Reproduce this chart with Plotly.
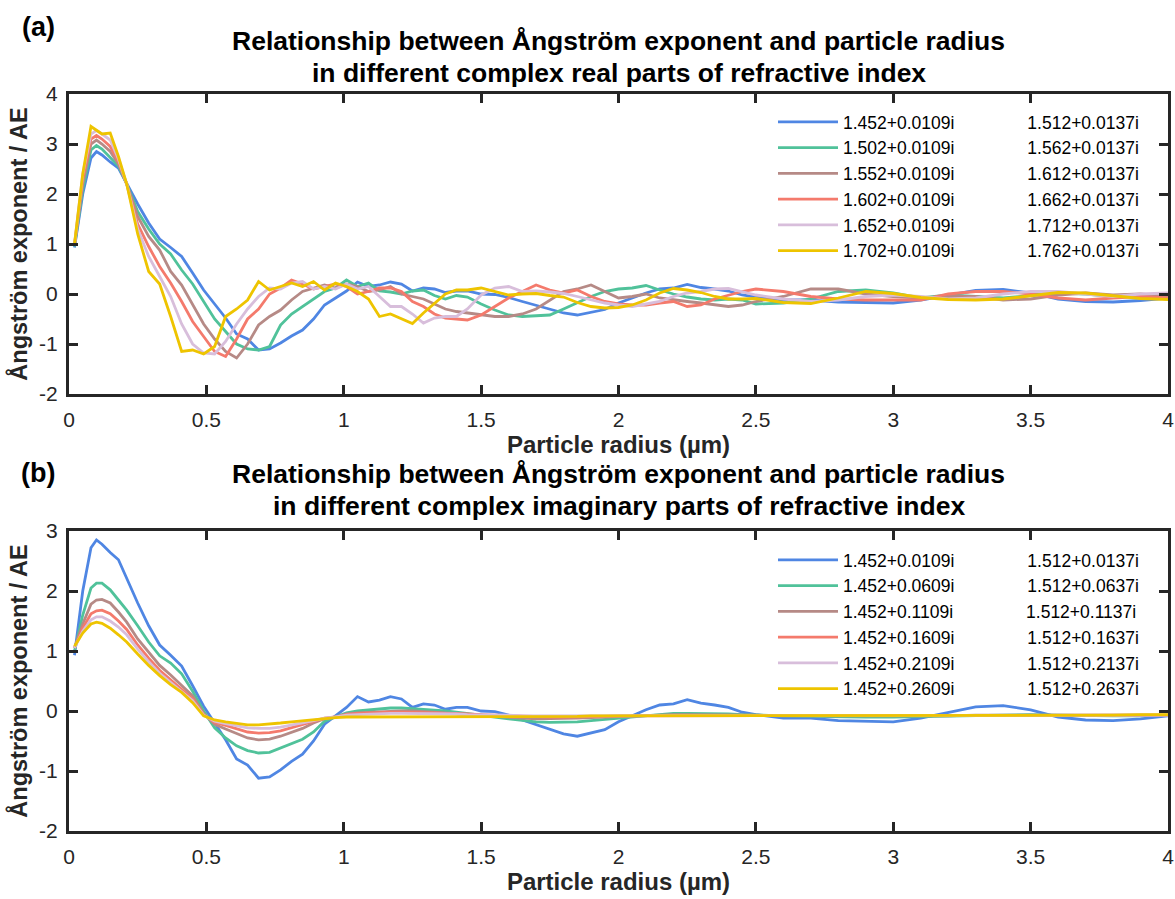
import plotly.graph_objects as go

# ---------------- data ----------------
radius_um = [0.02, 0.05, 0.08, 0.10, 0.12, 0.15, 0.18, 0.21,
             0.25, 0.29, 0.33, 0.37, 0.41, 0.45, 0.49, 0.53, 0.57, 0.61, 0.65, 0.69, 0.73, 0.77, 0.81,
             0.85, 0.89, 0.93, 0.97, 1.01, 1.05, 1.09, 1.13, 1.17, 1.21, 1.25, 1.29, 1.33, 1.37, 1.41, 1.45,
             1.50, 1.55, 1.60, 1.65, 1.70, 1.75, 1.80, 1.85, 1.90, 1.95, 2.00, 2.05, 2.10, 2.15, 2.20, 2.25,
             2.30, 2.35, 2.40, 2.45, 2.50,
             2.6, 2.7, 2.8, 2.9, 3.0, 3.1, 3.2, 3.3, 3.4, 3.5, 3.6, 3.7, 3.8, 3.9, 4.0]

# 1.452+0.0109i (shared by both panels)
ae_1452_0109 = [0.93, 2.00, 2.72, 2.85, 2.78, 2.64, 2.52, 2.20,
                1.80, 1.42, 1.10, 0.93, 0.75, 0.42, 0.08, -0.20, -0.48, -0.80, -0.90, -1.12, -1.10, -0.98, -0.84,
                -0.72, -0.50, -0.22, -0.08, 0.06, 0.24, 0.15, 0.18, 0.24, 0.20, 0.06, 0.12, 0.10, 0.03, 0.06, 0.06,
                0.00, -0.01, -0.07, -0.15, -0.23, -0.31, -0.38, -0.42, -0.37, -0.31, -0.18, -0.08, 0.02, 0.10, 0.12, 0.19,
                0.13, 0.10, 0.06, -0.02, -0.06,
                -0.12, -0.12, -0.16, -0.17, -0.18, -0.12, -0.02, 0.07, 0.09, 0.02, -0.10, -0.15, -0.16, -0.13, -0.08]

# panel (a): real part varies
ae_1502_0109 = [0.95, 2.10, 2.88, 2.97, 2.90, 2.74, 2.56, 2.20,
                1.65, 1.30, 1.00, 0.80, 0.48, 0.20, -0.15, -0.50, -0.75, -1.00, -1.10, -1.12, -1.05, -0.62, -0.40,
                -0.25, -0.10, 0.05, 0.12, 0.28, 0.15, 0.22, 0.06, 0.04, 0.00, 0.06, 0.08, -0.03, -0.10, -0.03, -0.06,
                -0.20, -0.32, -0.42, -0.45, -0.44, -0.42, -0.30, -0.18, -0.05, 0.05, 0.10, 0.12, 0.17, 0.08, 0.00, -0.06,
                -0.10, -0.12, -0.10, -0.12, -0.20,
                -0.18, -0.10, 0.05, 0.08, 0.02, -0.08, -0.02, -0.05, -0.08, -0.03, 0.02, 0.00, -0.05, -0.05, -0.10]
ae_1552_0109 = [0.97, 2.20, 3.00, 3.08, 3.00, 2.85, 2.60, 2.20,
                1.55, 1.15, 0.88, 0.45, 0.18, -0.20, -0.60, -0.90, -1.15, -1.28, -1.00, -0.62, -0.45, -0.32, -0.12,
                0.05, 0.12, 0.18, 0.12, 0.20, 0.15, 0.05, 0.08, 0.15, 0.00, -0.05, -0.10, -0.20, -0.30, -0.35, -0.38,
                -0.42, -0.45, -0.45, -0.40, -0.30, -0.12, 0.05, 0.10, 0.18, 0.05, -0.08, -0.05, 0.00, -0.08, -0.12, -0.15,
                -0.18, -0.22, -0.25, -0.22, -0.15,
                -0.05, 0.10, 0.10, 0.00, -0.05, -0.08, -0.05, -0.05, -0.12, -0.10, -0.02, 0.02, -0.02, 0.00, -0.05]
ae_1602_0109 = [0.98, 2.30, 3.10, 3.17, 3.10, 2.95, 2.65, 2.20,
                1.40, 0.95, 0.55, 0.22, -0.15, -0.55, -0.85, -1.15, -1.25, -0.90, -0.50, -0.30, 0.00, 0.12, 0.28,
                0.20, 0.10, 0.15, 0.20, 0.15, 0.00, 0.05, 0.12, 0.12, 0.05, -0.15, -0.25, -0.40, -0.48, -0.50, -0.52,
                -0.42, -0.25, -0.08, 0.05, 0.18, 0.08, 0.02, 0.08, -0.05, -0.15, -0.20, -0.22, -0.22, -0.18, -0.15, -0.25,
                -0.22, -0.10, -0.02, 0.05, 0.10,
                0.05, -0.05, -0.10, -0.12, -0.12, -0.12, 0.00, 0.05, 0.05, 0.00, -0.08, -0.12, -0.08, -0.05, -0.08]
ae_1652_0109 = [0.99, 2.40, 3.20, 3.27, 3.20, 3.08, 2.70, 2.20,
                1.30, 0.75, 0.35, -0.05, -0.60, -1.00, -1.18, -1.20, -0.95, -0.60, -0.30, -0.05, 0.12, 0.10, 0.22,
                0.25, 0.10, 0.15, 0.10, 0.20, 0.10, 0.15, -0.05, -0.25, -0.25, -0.40, -0.58, -0.48, -0.45, -0.45, -0.30,
                -0.02, 0.12, 0.15, 0.05, 0.06, 0.04, 0.01, -0.05, -0.12, -0.18, -0.22, -0.25, -0.20, -0.15, -0.05, 0.02,
                0.05, 0.10, 0.11, 0.05, -0.02,
                -0.10, -0.15, -0.12, -0.05, -0.02, -0.05, -0.10, -0.08, 0.00, 0.05, 0.05, 0.00, -0.05, 0.00, 0.02]
ae_1702_0109 = [1.00, 2.40, 3.35, 3.28, 3.20, 3.22, 2.75, 2.20,
                1.20, 0.45, 0.20, -0.45, -1.15, -1.12, -1.20, -1.05, -0.45, -0.30, -0.12, 0.25, 0.08, 0.15, 0.22,
                0.15, 0.25, 0.08, 0.22, 0.15, 0.05, -0.10, -0.45, -0.40, -0.49, -0.59, -0.38, -0.18, 0.00, 0.08, 0.08,
                0.12, 0.05, -0.02, 0.00, 0.01, -0.03, -0.06, -0.17, -0.25, -0.28, -0.27, -0.22, -0.12, 0.02, 0.11, 0.08,
                0.03, -0.05, -0.10, -0.10, -0.09,
                -0.17, -0.19, -0.08, 0.05, 0.01, -0.07, -0.11, -0.12, -0.10, -0.03, 0.03, 0.02, -0.04, -0.09, -0.11]

# panel (b): imaginary part varies
ae_1452_0609 = [1.00, 1.60, 2.05, 2.13, 2.13, 2.02, 1.85, 1.68,
                1.42, 1.15, 0.92, 0.80, 0.62, 0.33, 0.00, -0.28, -0.45, -0.58, -0.66, -0.70, -0.69, -0.62, -0.55,
                -0.47, -0.35, -0.17, -0.10, -0.03, 0.00, 0.02, 0.03, 0.05, 0.05, 0.04, 0.03, 0.02, 0.00, -0.02, -0.04,
                -0.07, -0.10, -0.13, -0.16, -0.18, -0.19, -0.19, -0.18, -0.16, -0.14, -0.12, -0.09, -0.07, -0.05, -0.04, -0.04,
                -0.04, -0.05, -0.05, -0.06, -0.07,
                -0.08, -0.09, -0.10, -0.10, -0.10, -0.09, -0.08, -0.07, -0.06, -0.06, -0.07, -0.08, -0.08, -0.08, -0.07]
ae_1452_1109 = [1.05, 1.45, 1.78, 1.85, 1.86, 1.80, 1.65, 1.48,
                1.20, 0.97, 0.76, 0.60, 0.42, 0.25, -0.04, -0.22, -0.30, -0.38, -0.45, -0.48, -0.47, -0.42, -0.36,
                -0.29, -0.20, -0.13, -0.10, -0.05, -0.03, -0.02, -0.01, 0.00, 0.00, 0.00, -0.01, -0.02, -0.03, -0.04, -0.05,
                -0.07, -0.09, -0.11, -0.12, -0.13, -0.13, -0.13, -0.12, -0.11, -0.10, -0.09, -0.08, -0.07, -0.06, -0.06, -0.06,
                -0.06, -0.06, -0.07, -0.07, -0.07,
                -0.08, -0.08, -0.09, -0.09, -0.09, -0.08, -0.08, -0.07, -0.07, -0.07, -0.07, -0.08, -0.08, -0.07, -0.07]
ae_1452_1609 = [1.05, 1.38, 1.62, 1.67, 1.68, 1.62, 1.50, 1.36,
                1.10, 0.88, 0.68, 0.52, 0.36, 0.20, -0.06, -0.19, -0.24, -0.30, -0.35, -0.37, -0.36, -0.33, -0.28,
                -0.23, -0.17, -0.12, -0.10, -0.06, -0.04, -0.03, -0.03, -0.02, -0.02, -0.02, -0.03, -0.03, -0.04, -0.04, -0.05,
                -0.06, -0.07, -0.08, -0.09, -0.10, -0.10, -0.10, -0.10, -0.09, -0.09, -0.08, -0.08, -0.07, -0.07, -0.07, -0.07,
                -0.07, -0.07, -0.07, -0.07, -0.07,
                -0.08, -0.08, -0.08, -0.08, -0.08, -0.08, -0.08, -0.07, -0.07, -0.07, -0.07, -0.07, -0.07, -0.07, -0.07]
ae_1452_2109 = [1.05, 1.33, 1.52, 1.57, 1.57, 1.50, 1.40, 1.27,
                1.03, 0.82, 0.63, 0.48, 0.33, 0.17, -0.07, -0.17, -0.21, -0.25, -0.28, -0.29, -0.29, -0.27, -0.24,
                -0.20, -0.16, -0.12, -0.10, -0.07, -0.06, -0.05, -0.05, -0.04, -0.04, -0.04, -0.05, -0.05, -0.05, -0.05, -0.06,
                -0.06, -0.07, -0.07, -0.08, -0.08, -0.08, -0.08, -0.08, -0.08, -0.08, -0.07, -0.07, -0.07, -0.07, -0.07, -0.07,
                -0.07, -0.07, -0.07, -0.07, -0.07,
                -0.07, -0.07, -0.08, -0.08, -0.07, -0.07, -0.07, -0.07, -0.07, -0.07, -0.07, -0.07, -0.07, -0.07, -0.07]
ae_1452_2609 = [1.08, 1.30, 1.45, 1.48, 1.46, 1.38, 1.27, 1.15,
                0.95, 0.76, 0.59, 0.44, 0.31, 0.14, -0.08, -0.15, -0.18, -0.21, -0.23, -0.23, -0.22, -0.20, -0.18,
                -0.16, -0.14, -0.12, -0.11, -0.10, -0.10, -0.09, -0.09, -0.09, -0.09, -0.09, -0.09, -0.09, -0.09, -0.09, -0.09,
                -0.09, -0.09, -0.09, -0.09, -0.09, -0.09, -0.09, -0.09, -0.08, -0.08, -0.08, -0.08, -0.08, -0.08, -0.08, -0.08,
                -0.08, -0.08, -0.08, -0.08, -0.08,
                -0.08, -0.08, -0.08, -0.08, -0.07, -0.07, -0.07, -0.07, -0.07, -0.07, -0.07, -0.07, -0.07, -0.06, -0.06]

labels_a_left = ["1.452+0.0109i", "1.502+0.0109i", "1.552+0.0109i", "1.602+0.0109i", "1.652+0.0109i", "1.702+0.0109i"]
labels_a_right = ["1.512+0.0137i", "1.562+0.0137i", "1.612+0.0137i", "1.662+0.0137i", "1.712+0.0137i", "1.762+0.0137i"]
labels_b_left = ["1.452+0.0109i", "1.452+0.0609i", "1.452+0.1109i", "1.452+0.1609i", "1.452+0.2109i", "1.452+0.2609i"]
labels_b_right = ["1.512+0.0137i", "1.512+0.0637i", "1.512+0.1137i", "1.512+0.1637i", "1.512+0.2137i", "1.512+0.2637i"]

x_ticks = [0, 0.5, 1, 1.5, 2, 2.5, 3, 3.5, 4]
x_tick_text = ["0", "0.5", "1", "1.5", "2", "2.5", "3", "3.5", "4"]
y_ticks_a = [-2, -1, 0, 1, 2, 3, 4]
y_ticks_b = [-2, -1, 0, 1, 2, 3]

series_a = [ae_1452_0109, ae_1502_0109, ae_1552_0109, ae_1602_0109, ae_1652_0109, ae_1702_0109]
series_b = [ae_1452_0109, ae_1452_0609, ae_1452_1109, ae_1452_1609, ae_1452_2109, ae_1452_2609]

colors = ["#4F86E3", "#50C29A", "#B68A86", "#F47A6C", "#D8BEDB", "#EEC400"]

# ---------------- figure ----------------
FONT = "Arial, Liberation Sans, sans-serif"
INK = "#262626"
NBSP = "\u00a0"
GAP = NBSP * 15

fig = go.Figure()
for lab_l, lab_r, ys, c in zip(labels_a_left, labels_a_right, series_a, colors):
    fig.add_trace(go.Scatter(x=radius_um, y=ys, mode="lines", name=lab_l + GAP + lab_r,
                             line=dict(color=c, width=2.8), xaxis="x", yaxis="y", legend="legend"))
for lab_l, lab_r, ys, c in zip(labels_b_left, labels_b_right, series_b, colors):
    fig.add_trace(go.Scatter(x=radius_um, y=ys, mode="lines", name=lab_l + GAP + lab_r,
                             line=dict(color=c, width=2.8), xaxis="x2", yaxis="y2", legend="legend2"))

W, H = 1175, 899
ML, MR, MT, MB = 69, 7, 94, 68
plot_h = H - MT - MB


def py(px):  # pixel row -> paper y
    return (H - MB - px) / plot_h


def px_x(px):  # pixel col -> paper x
    return (px - ML) / (W - ML - MR)


axis_style = dict(showline=True, linewidth=3, linecolor=INK, mirror="allticks",
                  ticks="inside", ticklen=9, tickwidth=3, tickcolor=INK,
                  showgrid=False, zeroline=False,
                  tickfont=dict(family=FONT, size=21, color=INK))
xtitle = dict(text="Particle radius (µm)", font=dict(family=FONT, size=24, color=INK, weight="bold"), standoff=4)
ytitle = dict(text="Ångström exponent / AE", font=dict(family=FONT, size=23.5, color=INK, weight="bold"), standoff=5)

fig.update_layout(
    width=W, height=H, margin=dict(l=ML, r=MR, t=MT, b=MB, autoexpand=False),
    paper_bgcolor="white", plot_bgcolor="white",
    font=dict(family=FONT, color=INK),
    xaxis=dict(domain=[0, 1], anchor="y", range=[0, 4], tickvals=x_ticks, ticktext=x_tick_text, title=xtitle,
               ticklabelstandoff=5, **axis_style),
    yaxis=dict(domain=[py(394), 1], anchor="x", range=[-2, 4], tickvals=y_ticks_a,
               ticktext=[str(v) for v in y_ticks_a], title=ytitle, ticklabelstandoff=4, **axis_style),
    xaxis2=dict(domain=[0, 1], anchor="y2", range=[0, 4], tickvals=x_ticks, ticktext=x_tick_text, title=xtitle,
                ticklabelstandoff=5, **axis_style),
    yaxis2=dict(domain=[0, py(531)], anchor="x2", range=[-2, 3], tickvals=y_ticks_b,
                ticktext=[str(v) for v in y_ticks_b], title=ytitle, ticklabelstandoff=4, **axis_style),
    legend=dict(x=px_x(773), y=py(104), xanchor="left", yanchor="top", bgcolor="rgba(0,0,0,0)",
                font=dict(family=FONT, size=17.5, color="black"), itemwidth=60, tracegroupgap=0),
    legend2=dict(x=px_x(773), y=py(542), xanchor="left", yanchor="top", bgcolor="rgba(0,0,0,0)",
                 font=dict(family=FONT, size=17.5, color="black"), itemwidth=60, tracegroupgap=0),
    showlegend=True,
)

title_font = dict(family=FONT, size=26.5, color="black", weight="bold")
label_font = dict(family=FONT, size=27, color="black", weight="bold")
ann = []
for yref, l1, l2, tag, l1_off, l2_off, tag_off in [
    ("y domain", "Relationship between Ångström exponent and particle radius",
     "in different complex real parts of refractive index", "(a)", 53, 21, 67),
    ("y2 domain", "Relationship between Ångström exponent and particle radius",
     "in different complex imaginary parts of refractive index", "(b)", 57, 25, 58),
]:
    xref = "x domain" if yref == "y domain" else "x2 domain"
    ann.append(dict(text=l1, xref=xref, yref=yref, x=0.5, y=1 + l1_off / 300, xanchor="center",
                    yanchor="middle", showarrow=False, font=title_font))
    ann.append(dict(text=l2, xref=xref, yref=yref, x=0.5, y=1 + l2_off / 300, xanchor="center",
                    yanchor="middle", showarrow=False, font=title_font))
    ann.append(dict(text=tag, xref=xref, yref=yref, x=-31 / 1099, y=1 + tag_off / 300, xanchor="center",
                    yanchor="middle", showarrow=False, font=label_font))
fig.update_layout(annotations=ann)

fig.write_html("out.html")
